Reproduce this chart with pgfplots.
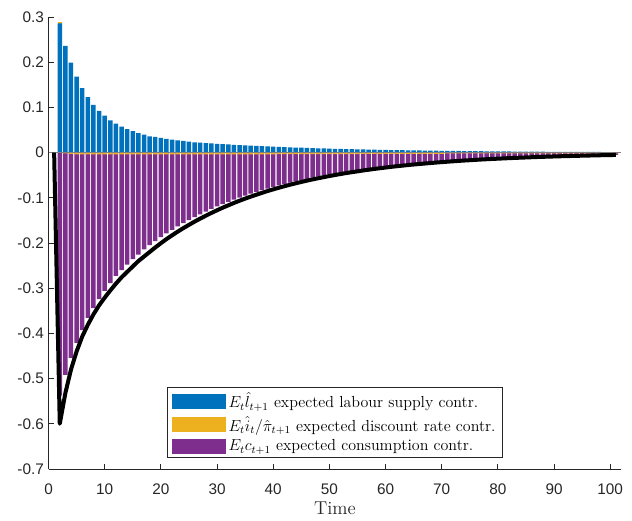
\documentclass[border=0pt]{standalone}
\usepackage{fontspec}
\usepackage{pgfplots}
\pgfplotsset{compat=1.18}
\usepackage{pgfplotstable}
\newfontfamily\arial{Liberation Sans}
\definecolor{mblue}{rgb}{0,0.447,0.741}
\definecolor{myellow}{rgb}{0.929,0.694,0.125}
\definecolor{mpurple}{rgb}{0.494,0.184,0.556}
\definecolor{axgray}{rgb}{0.15,0.15,0.15}

\pgfplotstableread{
t blue yel purp
2 0.286 0 -0.538
3 0.236 -0.002 -0.492
4 0.199 -0.003 -0.454
5 0.168 -0.004 -0.421
6 0.1424 -0.004 -0.393
7 0.1226 -0.004 -0.366
8 0.1057 -0.004 -0.344
9 0.0925 -0.004 -0.324
10 0.0815 -0.004 -0.306
11 0.0712 -0.004 -0.289
12 0.0639 -0.004 -0.273
13 0.0573 -0.004 -0.260
14 0.0521 -0.004 -0.248
15 0.0477 -0.004 -0.236
16 0.0433 -0.004 -0.226
17 0.0396 -0.004 -0.2142
18 0.0360 -0.004 -0.2047
19 0.0345 -0.004 -0.1957
20 0.0323 -0.004 -0.1871
21 0.0301 -0.004 -0.1789
22 0.0286 -0.004 -0.1710
23 0.0272 -0.004 -0.1635
24 0.0257 -0.004 -0.1563
25 0.0242 -0.004 -0.1494
26 0.0228 -0.004 -0.1428
27 0.0219 -0.004 -0.1365
28 0.0210 -0.004 -0.1305
29 0.0202 -0.004 -0.1248
30 0.0194 -0.004 -0.1193
31 0.0187 -0.004 -0.1140
32 0.0180 -0.004 -0.1090
33 0.0172 -0.004 -0.1042
34 0.0166 -0.004 -0.0996
35 0.0159 -0.004 -0.0952
36 0.0153 -0.004 -0.0911
37 0.0147 -0.004 -0.0871
38 0.0141 -0.004 -0.0832
39 0.0136 -0.004 -0.0796
40 0.0130 -0.004 -0.0761
41 0.0125 -0.0035 -0.0727
42 0.0120 -0.0035 -0.0695
43 0.0115 -0.0035 -0.0665
44 0.0111 -0.0035 -0.0635
45 0.0107 -0.0035 -0.0607
46 0.0102 -0.0035 -0.0581
47 0.0098 -0.0035 -0.0555
48 0.0095 -0.0035 -0.0531
49 0.0091 -0.0035 -0.0507
50 0.0087 -0.0035 -0.0485
51 0.0084 -0.0035 -0.0464
52 0.0081 -0.0035 -0.0443
53 0.0077 -0.0035 -0.0424
54 0.0074 -0.0035 -0.0405
55 0.0072 -0.0035 -0.0387
56 0.0069 -0.003 -0.0370
57 0.0066 -0.003 -0.0354
58 0.0063 -0.003 -0.0338
59 0.0061 -0.003 -0.0323
60 0.0059 -0.003 -0.0309
61 0.0056 -0.003 -0.0296
62 0.0054 -0.003 -0.0283
63 0.0052 -0.003 -0.0270
64 0.0050 -0.003 -0.0258
65 0.0048 -0.003 -0.0247
66 0.0046 -0.003 -0.0236
67 0.0044 -0.003 -0.0226
68 0.0042 -0.003 -0.0216
69 0.0041 -0.003 -0.0206
70 0.0039 -0.003 -0.0197
71 0.0038 -0.002 -0.0188
72 0.0036 -0.002 -0.0180
73 0.0035 -0.002 -0.0172
74 0.0033 -0.002 -0.0165
75 0.0032 -0.002 -0.0157
76 0.0031 -0.002 -0.0150
77 0.0030 -0.002 -0.0144
78 0.0028 -0.002 -0.0137
79 0.0027 -0.002 -0.0131
80 0.0026 -0.002 -0.0126
81 0.0025 -0.002 -0.0120
82 0.0024 -0.002 -0.0115
83 0.0023 -0.002 -0.0110
84 0.0022 -0.002 -0.0105
85 0.0021 -0.002 -0.0100
86 0.0021 -0.0015 -0.0096
87 0.0020 -0.0015 -0.0092
88 0.0019 -0.0015 -0.0088
89 0.0018 -0.0015 -0.0084
90 0.0018 -0.0015 -0.0080
91 0.0017 -0.0015 -0.0077
92 0.0016 -0.0015 -0.0073
93 0.0016 -0.0015 -0.0070
94 0.0015 -0.0015 -0.0067
95 0.0014 -0.0015 -0.0064
96 0.0014 -0.0015 -0.0061
97 0.0013 -0.0015 -0.0058
98 0.0013 -0.0015 -0.0056
99 0.0012 -0.0015 -0.0053
100 0.0012 -0.0015 -0.0051
101 0.0011 -0.0015 -0.0049
}\bars

\pgfplotstableread{
t v
1 0
2 -0.600
3 -0.532
4 -0.480
5 -0.440
6 -0.407
7 -0.381
8 -0.358
9 -0.338
10 -0.321
11 -0.305
12 -0.290
13 -0.276
14 -0.264
15 -0.252
16 -0.240
17 -0.230
18 -0.220
19 -0.210
20 -0.2005
21 -0.1914
22 -0.1830
23 -0.1749
24 -0.1672
25 -0.1599
26 -0.1528
27 -0.1461
28 -0.1397
29 -0.1335
30 -0.1277
31 -0.1220
32 -0.1167
33 -0.1115
34 -0.1066
35 -0.1019
36 -0.0975
37 -0.0932
38 -0.0891
39 -0.0851
40 -0.0814
41 -0.0778
42 -0.0744
43 -0.0711
44 -0.0680
45 -0.0650
46 -0.0621
47 -0.0594
48 -0.0568
49 -0.0543
50 -0.0519
51 -0.0496
52 -0.0474
53 -0.0453
54 -0.0434
55 -0.0415
56 -0.0396
57 -0.0379
58 -0.0362
59 -0.0346
60 -0.0331
61 -0.0316
62 -0.0302
63 -0.0289
64 -0.0276
65 -0.0264
66 -0.0253
67 -0.0242
68 -0.0231
69 -0.0221
70 -0.0211
71 -0.0202
72 -0.0193
73 -0.0184
74 -0.0176
75 -0.0169
76 -0.0161
77 -0.0154
78 -0.0147
79 -0.0141
80 -0.0135
81 -0.0129
82 -0.0123
83 -0.0118
84 -0.0113
85 -0.0108
86 -0.0103
87 -0.0098
88 -0.0094
89 -0.0090
90 -0.0086
91 -0.0082
92 -0.0079
93 -0.0075
94 -0.0072
95 -0.0069
96 -0.0066
97 -0.0063
98 -0.0060
99 -0.0057
100 -0.0055
101 -0.0052
}\lineres

\begin{document}
\begin{tikzpicture}
\begin{axis}[
  scale only axis, width=429.75pt, height=339pt,
  xmin=0, xmax=102, ymin=-0.7, ymax=0.3,
  axis lines*=left,
  axis line style={axgray, line width=0.6pt},
  tick style={axgray, line width=0.6pt},
  tick align=inside,
  major tick length=4pt,
  xtick={0,10,20,30,40,50,60,70,80,90,100},
  ytick={-0.7,-0.6,-0.5,-0.4,-0.3,-0.2,-0.1,0,0.1,0.2,0.3},
  ticklabel style={font=\arial\fontsize{11.5}{13}\selectfont, text=axgray},
  xticklabel style={anchor=base, yshift=-19pt},
  /pgf/number format/assume math mode=true,
  yticklabel style={/pgf/number format/fixed, /pgf/number format/precision=1},
  xlabel={Time},
  xlabel style={font=\fontsize{14}{16}\selectfont, text=axgray,
    at={(axis description cs:0.5,0)}, anchor=base, yshift=-34.5pt},
  legend style={at={(0.5,0.0243)}, anchor=south, draw=axgray, line width=0.6pt,
    font=\fontsize{12}{13.5}\selectfont, inner xsep=3pt, inner ysep=1.5pt,
    row sep=1pt},
  legend cell align=left,
]
\addplot[ybar, bar width=0.8, bar shift=0pt, fill=myellow, draw=none, forget plot] coordinates {(2,0.290)};
\addplot[ybar, bar width=0.8, bar shift=0pt, fill=mblue, draw=none, forget plot] table[x=t, y=blue] {\bars};
\addplot[ybar, bar width=0.8, bar shift=0pt, fill=mpurple, draw=none, forget plot] table[x=t, y=purp] {\bars};
\addplot[ybar, bar width=0.8, bar shift=0pt, fill=myellow, draw=none, forget plot] table[x=t, y=yel] {\bars};
\addplot[gray, line width=0.5pt, forget plot] coordinates {(0,0) (102,0)};
\addplot[black, line width=3pt, line join=round, forget plot] table[x=t, y=v] {\lineres};
\addlegendimage{legend image code/.code={\fill[mblue] (0pt,-5.25pt) rectangle (40pt,5.25pt);}}
\addlegendentry{$E_t\hat{l}_{t+1}$ expected labour supply contr.}
\addlegendimage{legend image code/.code={\fill[myellow] (0pt,-5.25pt) rectangle (40pt,5.25pt);}}
\addlegendentry{$E_t\hat{i}_t/\hat{\pi}_{t+1}$ expected discount rate contr.}
\addlegendimage{legend image code/.code={\fill[mpurple] (0pt,-5.25pt) rectangle (40pt,5.25pt);}}
\addlegendentry{$E_tc_{t+1}$ expected consumption contr.}
\end{axis}
\path (current axis.south west) ++(-36.4pt,-39pt) coordinate (bl);
\path (current axis.north east) ++(7.9pt,12.75pt) coordinate (tr);
\pgfresetboundingbox
\useasboundingbox (bl) rectangle (tr);
\end{tikzpicture}
\end{document}
